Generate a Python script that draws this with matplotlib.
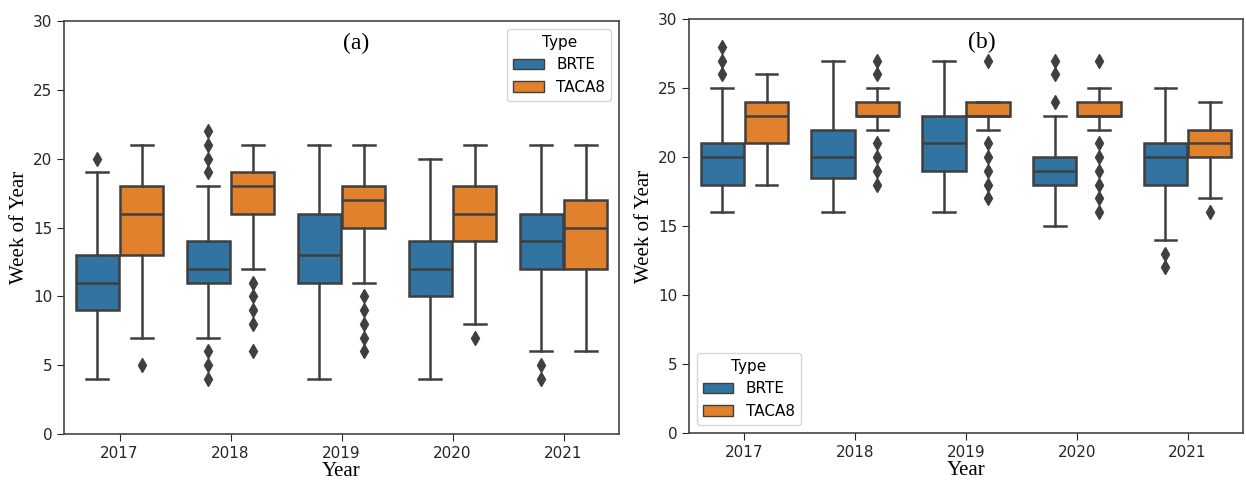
import matplotlib
matplotlib.use("Agg")
import matplotlib.pyplot as plt
from matplotlib.patches import Patch

years = ["2017", "2018", "2019", "2020", "2021"]
types = ["BRTE", "TACA8"]

# panel (a): box stats per year
a_brte_lo = [4, 7, 4, 4, 6]
a_brte_q1 = [9, 11, 11, 10, 12]
a_brte_med = [11, 12, 13, 12, 14]
a_brte_q3 = [13, 14, 16, 14, 16]
a_brte_hi = [19, 18, 21, 20, 21]
a_brte_fl = [[20], [19, 20, 21, 22, 4, 5, 6], [], [], [5, 4]]

a_taca_lo = [7, 12, 11, 8, 6]
a_taca_q1 = [13, 16, 15, 14, 12]
a_taca_med = [16, 18, 17, 16, 15]
a_taca_q3 = [18, 19, 18, 18, 17]
a_taca_hi = [21, 21, 21, 21, 21]
a_taca_fl = [[5], [11, 10, 9, 8, 6], [10, 9, 8, 7, 6], [7], []]

# panel (b)
b_brte_lo = [16, 16, 16, 15, 14]
b_brte_q1 = [18, 18.5, 19, 18, 18]
b_brte_med = [20, 20, 21, 19, 20]
b_brte_q3 = [21, 22, 23, 20, 21]
b_brte_hi = [25, 27, 27, 23, 25]
b_brte_fl = [[26, 27, 28], [], [], [24, 26, 27], [13, 12]]

b_taca_lo = [18, 22, 22, 22, 17]
b_taca_q1 = [21, 23, 23, 23, 20]
b_taca_med = [23, 23, 23, 23, 21]
b_taca_q3 = [24, 24, 24, 24, 22]
b_taca_hi = [26, 25, 24, 25, 24]
b_taca_fl = [[], [26, 27, 21, 20, 19, 18], [27, 21, 20, 19, 18, 17],
             [27, 21, 20, 19, 18, 17, 16], [16]]

colors = ["#3274a1", "#e1812c"]
line_c = "#3f3f3f"
lw = 1.8


def make_stats(lo, q1, med, q3, hi, fl):
    return [dict(whislo=lo[i], q1=q1[i], med=med[i], q3=q3[i], whishi=hi[i],
                 fliers=fl[i]) for i in range(len(years))]


def draw(ax, groups):
    for k, st in enumerate(groups):
        pos = [i - 0.2 + 0.4 * k for i in range(len(years))]
        ax.bxp(st, positions=pos, widths=0.392, patch_artist=True,
               manage_ticks=False,
               boxprops=dict(facecolor=colors[k], edgecolor=line_c, linewidth=lw),
               medianprops=dict(color=line_c, linewidth=lw),
               whiskerprops=dict(color=line_c, linewidth=lw),
               capprops=dict(color=line_c, linewidth=lw),
               flierprops=dict(marker="d", markerfacecolor=line_c,
                               markeredgecolor=line_c, markersize=7))
    ax.set_xlim(-0.5, len(years) - 0.5)
    ax.set_ylim(0, 30)
    ax.set_xticks(range(len(years)))
    ax.set_xticklabels(years)
    ax.tick_params(labelsize=11, colors="#262626", length=5)
    for s in ax.spines.values():
        s.set_color("#444444")
        s.set_linewidth(1.2)
    ax.set_xlabel("Year", family="Liberation Serif", fontsize=15, labelpad=1)
    ax.set_ylabel("Week of Year", family="Liberation Serif", fontsize=15, labelpad=3)


fig = plt.figure(figsize=(12.46, 4.83), dpi=100)
ax1 = fig.add_axes([0.0514, 0.1014, 0.4454, 0.855])
ax2 = fig.add_axes([0.553, 0.104, 0.4446, 0.856])

draw(ax1, [make_stats(a_brte_lo, a_brte_q1, a_brte_med, a_brte_q3, a_brte_hi, a_brte_fl),
           make_stats(a_taca_lo, a_taca_q1, a_taca_med, a_taca_q3, a_taca_hi, a_taca_fl)])
draw(ax2, [make_stats(b_brte_lo, b_brte_q1, b_brte_med, b_brte_q3, b_brte_hi, b_brte_fl),
           make_stats(b_taca_lo, b_taca_q1, b_taca_med, b_taca_q3, b_taca_hi, b_taca_fl)])

ax1.text(2.13, 28.4, "(a)", family="Liberation Serif", fontsize=17, ha="center", va="center")
ax2.text(2.14, 28.3, "(b)", family="Liberation Serif", fontsize=17, ha="center", va="center")

handles = [Patch(facecolor=colors[k], edgecolor=line_c, label=types[k]) for k in range(2)]
ax1.legend(handles=handles, title="Type", loc="upper right", fontsize=11,
           title_fontsize=11)
ax2.legend(handles=handles, title="Type", loc="lower left", fontsize=11,
           title_fontsize=11)

fig.savefig("out.png", dpi=100)
